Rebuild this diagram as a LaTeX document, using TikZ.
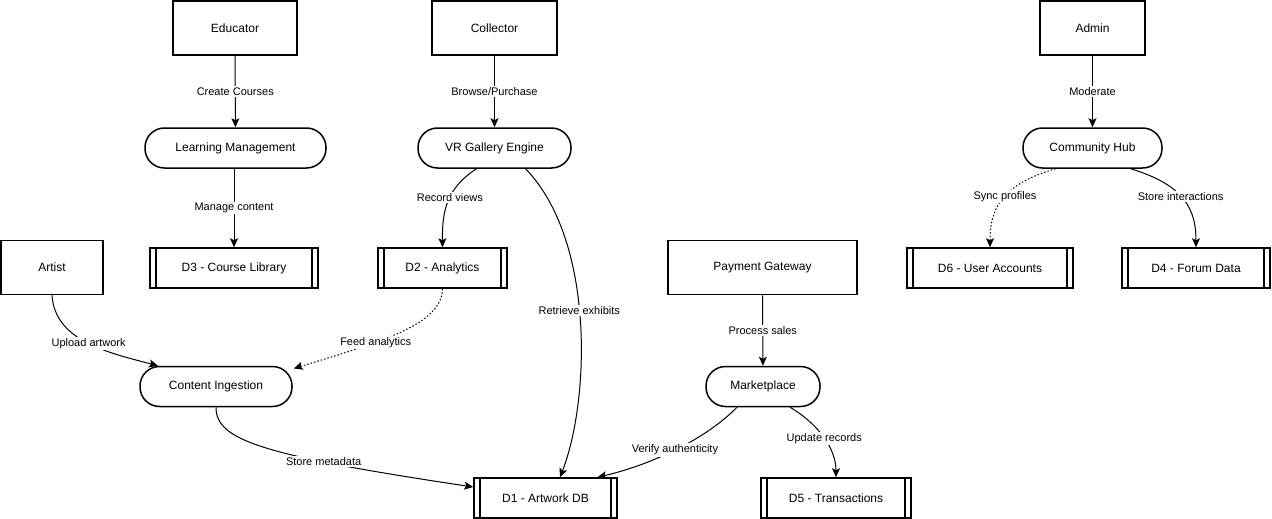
\documentclass[tikz,border=0pt]{standalone}
\usepackage{fontspec}
\setmainfont{Liberation Sans}
\usetikzlibrary{arrows.meta,calc}
\begin{document}
\begin{tikzpicture}[x=1pt,y=-1pt,
  ent/.style={draw,line width=1.5pt,fill=white,minimum width=#1,minimum height=54pt,inner sep=0pt,font=\fontsize{12}{14}\selectfont},
  proc/.style={draw,line width=1.5pt,fill=white,rounded corners=19.5pt,minimum width=#1,minimum height=40pt,inner sep=0pt,font=\fontsize{12}{14}\selectfont},
  store/.style={draw,line width=1.5pt,fill=white,minimum width=#1,minimum height=40pt,inner sep=0pt,font=\fontsize{12}{14}\selectfont,
    path picture={\draw[line width=1.2pt] ([xshift=6pt]path picture bounding box.north west) -- ([xshift=6pt]path picture bounding box.south west);
                  \draw[line width=1.2pt] ([xshift=-6pt]path picture bounding box.north east) -- ([xshift=-6pt]path picture bounding box.south east);}},
  flow/.style={draw,line width=1pt,-{Stealth[length=9pt,width=8pt,inset=2pt]}},
  dflow/.style={flow,dash pattern=on 1.5pt off 2pt},
  lbl/.style={fill=white,inner sep=1.5pt,font=\fontsize{11}{13}\selectfont}
]
\useasboundingbox (0,0) rectangle (1272,519);
% entities
\node[ent=124pt] (edu) at (235,28) {Educator};
\node[ent=125pt] (col) at (494.5,28) {Collector};
\node[ent=105pt] (adm) at (1092.5,28) {Admin};
\node[ent=102pt] (art) at (52,267.5) {Artist};
\node[ent=189pt] (pay) at (762.5,267.5) {Payment Gateway};
% processes
\node[proc=181pt] (lms) at (235.5,148) {Learning Management};
\node[proc=153pt] (vr) at (494.5,148) {VR Gallery Engine};
\node[proc=139pt] (hub) at (1092.5,148) {Community Hub};
\node[proc=152pt] (ing) at (216,386.5) {Content Ingestion};
\node[proc=114pt] (mkt) at (763,386.5) {Marketplace};
% stores
\node[store=168pt] (d3) at (234,268) {D3 - Course Library};
\node[store=129pt] (d2) at (442.5,268) {D2 - Analytics};
\node[store=166pt] (d6) at (990,268) {D6 - User Accounts};
\node[store=148pt] (d4) at (1196,268) {D4 - Forum Data};
\node[store=143pt] (d1) at (545.5,498) {D1 - Artwork DB};
\node[store=150pt] (d5) at (836,498) {D5 - Transactions};
% flows
\draw[flow] (edu) -- node[lbl] {Create Courses} (lms);
\draw[flow] (col) -- node[lbl] {Browse/Purchase} (vr);
\draw[flow] (adm) -- node[lbl] {Moderate} (hub);
\draw[flow] ([xshift=-1.5pt]lms.south) -- node[lbl,pos=0.5] {Manage content} (d3.north);
\draw[flow] ([xshift=-18pt]vr.south) .. controls (447,188) and (442,210) .. node[lbl,pos=0.45] {Record views} (d2.north);
\draw[flow] ([xshift=31pt]vr.south) .. controls (595,240) and (590,400) .. node[lbl,pos=0.47] {Retrieve exhibits} ([xshift=14.5pt]d1.north);
\draw[dflow] (d2.south) .. controls (442,325) and (380,342) .. node[lbl,pos=0.64] {Feed analytics} ([xshift=1pt,yshift=18pt]ing.east);
\draw[flow] (art.south) .. controls (55,340) and (105,352) .. node[lbl,pos=0.52] {Upload artwork} ([xshift=-58pt]ing.north);
\draw[flow] (ing.south) .. controls (216,440) and (260,455) .. node[lbl,pos=0.7] {Store metadata} ([yshift=11pt]d1.west);
\draw[flow] (pay) -- node[lbl] {Process sales} (mkt);
\draw[flow] ([xshift=-26pt]mkt.south) .. controls (705,440) and (650,465) .. node[lbl,pos=0.5] {Verify authenticity} ([xshift=52pt]d1.north);
\draw[flow] ([xshift=27pt]mkt.south) .. controls (820,425) and (836,450) .. node[lbl,pos=0.5] {Update records} (d5.north);
\draw[dflow] ([xshift=-37pt]hub.south) .. controls (1000,185) and (990,210) .. node[lbl,pos=0.45] {Sync profiles} (d6.north);
\draw[flow] ([xshift=38pt]hub.south) .. controls (1185,185) and (1196,210) .. node[lbl,pos=0.45] {Store interactions} (d4.north);
\end{tikzpicture}
\end{document}
